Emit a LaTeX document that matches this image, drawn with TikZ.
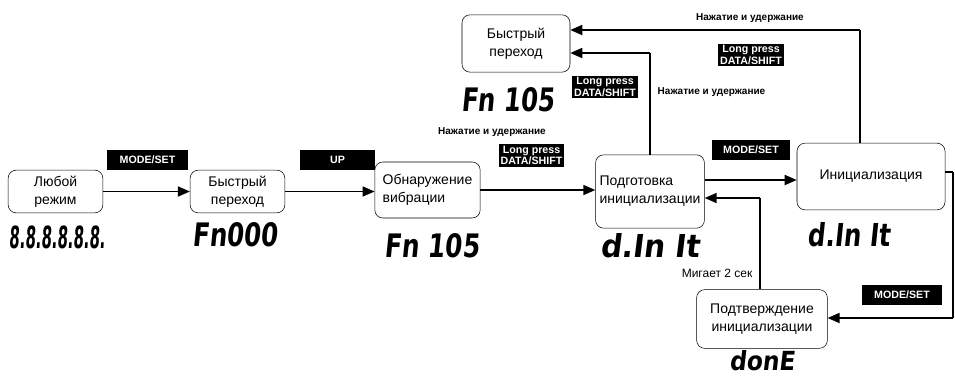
\documentclass[tikz,border=0pt]{standalone}
\usepackage{fontspec}
\setmainfont{Liberation Sans}
\newfontfamily\segfont[FakeSlant=0.12]{DejaVu Sans Condensed Bold}
\usepackage{tikz}
\usetikzlibrary{arrows.meta,positioning,calc}
\newcommand\disp[3]{\resizebox{#1}{#2}{#3}}

\begin{document}
\begin{tikzpicture}[x=0.75pt,y=-0.75pt,
  box/.style={draw,rounded corners=6pt,align=center,inner sep=1pt,
              font=\fontsize{10.5}{13.5}\selectfont},
  key/.style={fill=black,text=white,align=center,inner sep=1.5pt,
              font=\bfseries\fontsize{8}{8.5}\selectfont},
  note/.style={font=\bfseries\fontsize{7.5}{9}\selectfont},
  seg/.style={font=\segfont\fontsize{22}{22}\selectfont,inner sep=0pt},
  arr/.style={-{Triangle[length=9pt,width=7.5pt]},line width=1.3pt}]
  \useasboundingbox (0,0) rectangle (955,379);
  % states
  \node[box,minimum width=71pt,minimum height=32pt] (any) at (55.5,191.5){Любой\\режим};
  \node[box,minimum width=71pt,minimum height=32pt] (fast) at (237.5,191.5){Быстрый\\переход};
  \node[box,minimum width=79pt,minimum height=42pt,align=left] (vib) at (427.5,190){Обнаружение\\вибрации};
  \node[box,minimum width=77pt,minimum height=55pt,align=left,inner sep=3pt] (prep) at (650,191.5){Подготовка\\инициализации};
  \node[box,minimum width=111pt,minimum height=50pt] (init) at (871,176.5){Инициализация};
  \node[box,minimum width=98pt,minimum height=44pt] (conf) at (762,319){Подтверждение\\инициализации};
  \node[box,minimum width=81pt,minimum height=43pt] (jump) at (516,43.5){Быстрый\\переход};
  % displays
  \node[seg] (dany) at (57,237){\disp{72pt}{17pt}{8.8.8.8.8.8.}};
  \node[seg] (dfast) at (235,235){\disp{64pt}{18pt}{Fn000}};
  \node[seg] (dvib) at (432,246){\disp{71pt}{18pt}{Fn 105}};
  \node[seg] (djump) at (508,100){\disp{70pt}{18pt}{Fn 105}};
  \node[seg] (dprep) at (650,246){\disp{75pt}{18pt}{d.In It}};
  \node[seg] (dinit) at (849,235){\disp{62pt}{18pt}{d.In It}};
  \node[seg] (dconf) at (762,361){\disp{49pt}{15pt}{donE}};
  % keys
  \node[key,minimum width=61pt,minimum height=15pt] (k1) at (147.5,159.5){MODE/SET};
  \node[key,minimum width=56pt,minimum height=15pt] (k2) at (337.5,160){UP};
  \node[key] (k3) at (531.5,155.5){Long press\\DATA/SHIFT};
  \node[note] (n3) at (492,132){Нажатие и удержание};
  \node[key,minimum width=58pt,minimum height=15pt] (k4) at (751,150){MODE/SET};
  \node[key,minimum width=60pt,minimum height=15pt] (k5) at (902,295){MODE/SET};
  \node[key] (k6) at (605,87){Long press\\DATA/SHIFT};
  \node[note,anchor=west] (n6) at (653,92){Нажатие и удержание};
  \node[key] (k7) at (751,55){Long press\\DATA/SHIFT};
  \node[note] (n7) at (750,18){Нажатие и удержание};
  \node[anchor=east,font=\fontsize{9}{10}\selectfont] (blink) at (757,273){Мигает 2 сек};
  % transitions
  \coordinate (rt) at (953,172);
  \coordinate (rb) at (953,318);
  \draw[arr] (any) -- (fast);
  \draw[arr] (fast.east) -- (vib.west |- fast.east);
  \draw[arr] (vib.east) -- (prep.west |- vib.east);
  \draw[arr] (prep.east |- 0,180) -- (init.west |- 0,180);
  \draw[line width=1.3pt] (init.east |- rt) -- (rt);
  \draw[line width=1pt] (rt) -- (rb);
  \draw[arr] (rb) -- (conf.east |- rb);
  \draw[line width=1pt] (conf.north -| 760,0) -- (760,198) coordinate (cb);
  \draw[arr] (cb) -- (prep.east |- cb);
  \draw[line width=1pt] (prep.north) -- (650,53) coordinate (pj);
  \draw[arr] (pj) -- (jump.east |- pj);
  \draw[line width=1pt] (init.north -| 860,0) -- (860,30) coordinate (ij);
  \draw[arr] (ij) -- (jump.east |- ij);
\end{tikzpicture}
\end{document}
